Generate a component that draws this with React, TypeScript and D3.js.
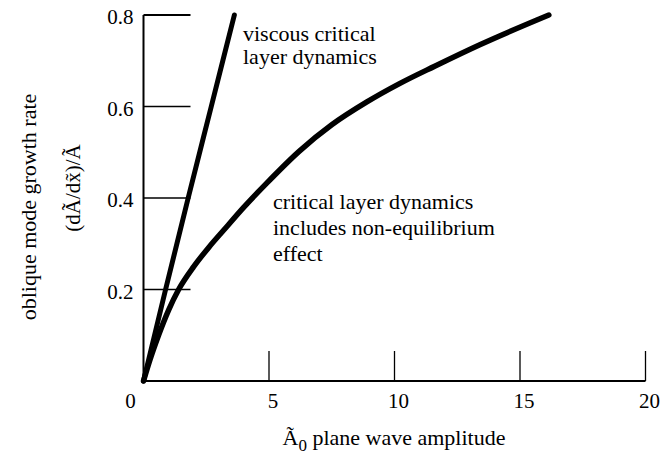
import React, { useEffect, useRef } from "react";
import * as d3 from "d3";

// values
const viscousX = [0, 0.88, 1.78, 2.7, 3.62];
const viscousY = [0, 0.2, 0.4, 0.6, 0.8];

const criticalX = [0, 0.25, 0.6, 1.0, 1.4, 2.0, 2.6, 3.2, 4.0, 4.9, 6.2, 7.5, 8.9, 10.2, 11.6, 13.4, 16.15];
const criticalY = [0, 0.045, 0.1, 0.155, 0.2, 0.25, 0.292, 0.33, 0.38, 0.432, 0.502, 0.56, 0.61, 0.65, 0.688, 0.735, 0.8];

const xTicks = [5, 10, 15, 20];
const yTicks = [0.2, 0.4, 0.6, 0.8];

const viscousLabel = ["viscous critical", "layer dynamics"];
const criticalLabel = ["critical layer dynamics", "includes non-equilibrium", "effect"];

export default function App() {
  const svgRef = useRef<SVGSVGElement>(null);

  useEffect(() => {
    const svg = d3.select(svgRef.current);
    svg.selectAll("*").remove();

    const width = 661;
    const height = 457;
    const font = "'Liberation Serif', 'Times New Roman', serif";

    const x = d3.scaleLinear().domain([0, 20]).range([143.5, 645.5]);
    const y = d3.scaleLinear().domain([0, 0.8]).range([381, 15]);

    svg.attr("width", width).attr("height", height);
    svg.append("rect").attr("width", width).attr("height", height).attr("fill", "#fff");

    const g = svg.append("g");

    // axes lines
    g.append("line")
      .attr("x1", x(0)).attr("x2", x(20))
      .attr("y1", y(0)).attr("y2", y(0))
      .attr("stroke", "#000").attr("stroke-width", 2);
    g.append("line")
      .attr("x1", x(0)).attr("x2", x(0))
      .attr("y1", y(0)).attr("y2", y(0.8))
      .attr("stroke", "#000").attr("stroke-width", 2);

    // inward ticks
    g.selectAll(".xt").data(xTicks).join("line")
      .attr("x1", (d) => x(d)).attr("x2", (d) => x(d))
      .attr("y1", y(0)).attr("y2", y(0) - 30)
      .attr("stroke", "#000").attr("stroke-width", 1.3);
    g.selectAll(".yt").data(yTicks).join("line")
      .attr("x1", x(0)).attr("x2", x(0) + 47)
      .attr("y1", (d) => y(d)).attr("y2", (d) => y(d))
      .attr("stroke", "#000").attr("stroke-width", (d) => (d === 0.8 ? 2 : 1.3));

    // tick labels
    g.selectAll(".xl").data(xTicks).join("text")
      .attr("x", (d) => x(d) + 4).attr("y", y(0) + 27)
      .attr("text-anchor", "middle")
      .attr("font-family", font).attr("font-size", 21)
      .text((d) => d);
    g.selectAll(".yl").data(yTicks).join("text")
      .attr("x", x(0) - 10).attr("y", (d) => y(d) + 9)
      .attr("text-anchor", "end")
      .attr("font-family", font).attr("font-size", 21)
      .text((d) => d3.format(".1f")(d));
    g.append("text")
      .attr("x", x(0) - 13).attr("y", y(0) + 27)
      .attr("text-anchor", "middle")
      .attr("font-family", font).attr("font-size", 21)
      .text("0");

    // curves
    const viscous = viscousX.map((v, i) => [v, viscousY[i]] as [number, number]);
    const critical = criticalX.map((v, i) => [v, criticalY[i]] as [number, number]);
    const line = d3.line<[number, number]>()
      .x((d) => x(d[0])).y((d) => y(d[1]))
      .curve(d3.curveMonotoneX);

    g.append("path").attr("d", line(viscous))
      .attr("fill", "none").attr("stroke", "#000")
      .attr("stroke-width", 5).attr("stroke-linecap", "round");
    g.append("path").attr("d", line(critical))
      .attr("fill", "none").attr("stroke", "#000")
      .attr("stroke-width", 5.5).attr("stroke-linecap", "round");

    // annotations
    viscousLabel.forEach((t, i) => {
      g.append("text")
        .attr("x", 243).attr("y", 41 + i * 23)
        .attr("font-family", font).attr("font-size", 22)
        .text(t);
    });
    criticalLabel.forEach((t, i) => {
      g.append("text")
        .attr("x", 273).attr("y", 209 + i * 26)
        .attr("font-family", font).attr("font-size", 22)
        .text(t);
    });

    // axis titles
    g.append("text")
      .attr("transform", "translate(36, 207) rotate(-90)")
      .attr("text-anchor", "middle")
      .attr("font-family", font).attr("font-size", 22)
      .text("oblique mode growth rate");
    g.append("text")
      .attr("transform", "translate(80, 188) rotate(-90)")
      .attr("text-anchor", "middle")
      .attr("font-family", font).attr("font-size", 21)
      .text("(d\u00C3/dx\u0303)/\u00C3");

    const xt = g.append("text")
      .attr("x", 394).attr("y", 445)
      .attr("text-anchor", "middle")
      .attr("font-family", font).attr("font-size", 22);
    xt.append("tspan").text("\u00C3");
    xt.append("tspan").attr("dy", 6).attr("font-size", 17).text("0");
    xt.append("tspan").attr("dy", -6).text(" plane wave amplitude");
  }, []);

  return (
    <svg ref={svgRef} style={{ position: "absolute", left: 0, top: 0, display: "block" }} />
  );
}
